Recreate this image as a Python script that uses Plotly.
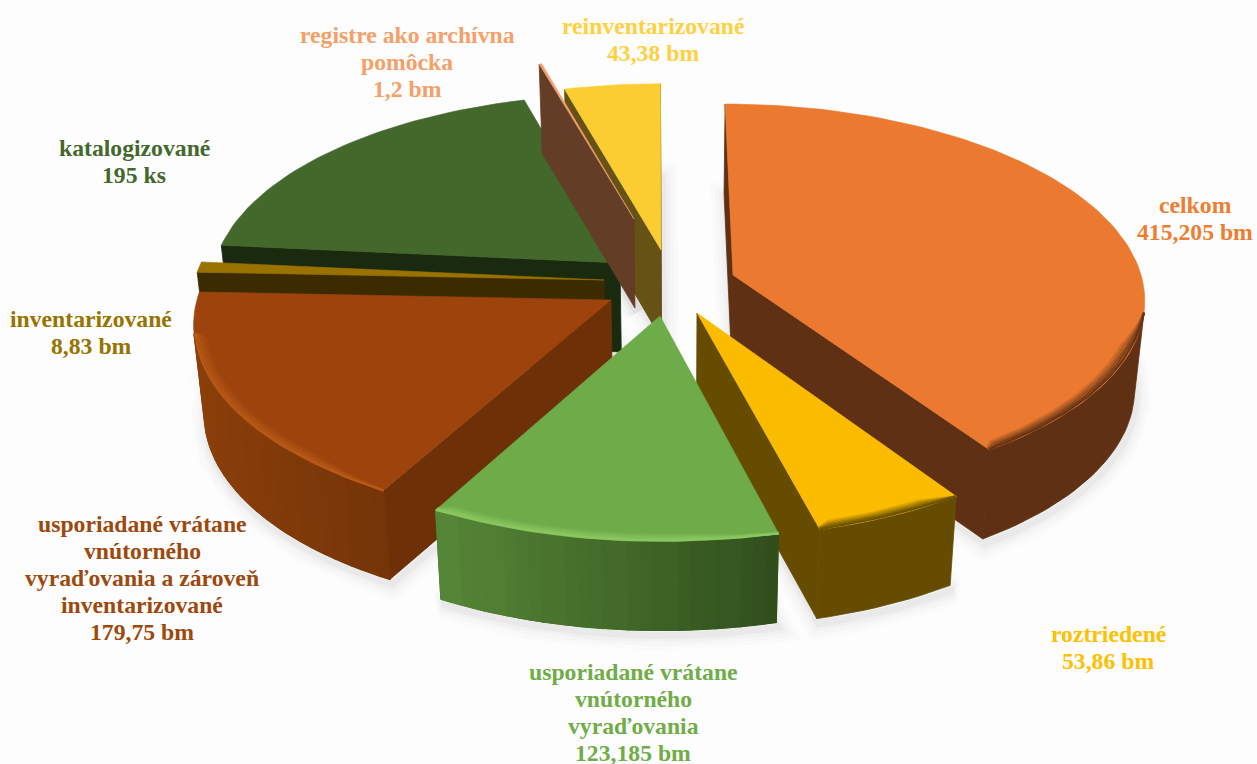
import math
import plotly.graph_objects as go

# ---- data ----
names = ["celkom", "roztriedené", "usporiadané vrátane vnútorného vyraďovania",
         "usporiadané vrátane vnútorného vyraďovania a zároveň inventarizované",
         "inventarizované", "katalogizované", "registre ako archívna pomôcka",
         "reinventarizované"]
values = [415.205, 53.86, 123.185, 179.75, 8.83, 195, 1.2, 43.38]
label_lines = [
    ["celkom", "415,205 bm"],
    ["roztriedené", "53,86 bm"],
    ["usporiadané vrátane", "vnútorného", "vyraďovania", "123,185 bm"],
    ["usporiadané vrátane", "vnútorného", "vyraďovania a zároveň", "inventarizované", "179,75 bm"],
    ["inventarizované", "8,83 bm"],
    ["katalogizované", "195 ks"],
    ["registre ako archívna", "pomôcka", "1,2 bm"],
    ["reinventarizované", "43,38 bm"],
]

# ---- style / layout ----
top_col = ["#EB7A30", "#FBBC00", "#6EAB49", "#9C440C", "#9A7200", "#43682B", "#F4A070", "#FCCD30"]
rad_col = ["#5F3013", "#664C00", "#2F4D1C", "#6E3006", "#3D2B00", "#1A2A0F", "#633D25", "#665215"]
wall_l = ["#5F3013", "#664C00", "#558536", "#8B3F0A", "#3D2B00", "#1A2A0F", "#633D25", "#665215"]
wall_r = ["#5F3013", "#664C00", "#2F4D1C", "#733408", "#3D2B00", "#1A2A0F", "#633D25", "#665215"]
bevel_col = ["#5F3013", "#664C00", "#8CC860", "#B85A18", None, None, None, None]
txt_col = ["#ED7D31", "#FFC000", "#70AD47", "#9E480E", "#997300", "#43682B", "#F4A068", "#FFD040"]
apex = [(733, 275), (697, 313), (660, 316), (611, 300), (604, 280), (620, 263), (634, 219), (661, 250)]
label_x = [1195, 1108, 633, 142, 91, 134, 407, 653]
label_y0 = [205, 634, 672, 524, 319, 148, 35, 26]
label_dy = 27
draw_order = [7, 5, 6, 4, 3, 0, 1, 2]
CX, CY, A, B, P = 655.0, 283.0, 410.0, 192.0, 0.113
H, VX, SHR = 89.0, 677.0, 0.022
BG = "#FDFDFD"


def hex2rgb(h):
    return tuple(int(h[i:i + 2], 16) for i in (1, 3, 5))


def mix(a, b, t):
    ra, rb = hex2rgb(a), hex2rgb(b)
    return "#%02X%02X%02X" % tuple(round(x + (y - x) * t) for x, y in zip(ra, rb))


def proj(gx, gy):
    d = 1 + P * gy
    return CX + A * gx / d, CY - B * gy / d


def unproj(sx, sy):
    d = sy - CY
    gy = -d / (B + P * d)
    return (sx - CX) * (1 + P * gy) / A, gy


def down(pt):
    return pt[0] + (VX - pt[0]) * SHR, pt[1] + H


total = sum(values)
fig = go.Figure()


def poly(pts, fill, line=None, width=0.8):
    xs = [p[0] for p in pts] + [pts[0][0]]
    ys = [p[1] for p in pts] + [pts[0][1]]
    fig.add_trace(go.Scatter(x=xs, y=ys, mode="lines", fill="toself", fillcolor=fill,
                             line=dict(color=line or fill, width=width),
                             hoverinfo="skip", showlegend=False))


def path(pts, color, width):
    fig.add_trace(go.Scatter(x=[p[0] for p in pts], y=[p[1] for p in pts], mode="lines",
                             line=dict(color=color, width=width), hoverinfo="skip", showlegend=False))


# slice geometry derived from the values
slices = []
ang = 0.0
for i, v in enumerate(values):
    span = v / total * 360
    gx0, gy0 = unproj(*apex[i])
    n = max(2, int(span / 1.5))

    def point(r, k, a0=ang, sp=span, n=n, gx0=gx0, gy0=gy0):
        t = math.radians(a0 + sp * k / n)
        return proj(gx0 + r * math.sin(t), gy0 + r * math.cos(t))

    slices.append(dict(apex=apex[i], arc=[point(1.0, k) for k in range(n + 1)], point=point))
    ang += span

# soft shadows from the bottom faces
for w, alpha in [(30, 0.012), (22, 0.016), (14, 0.02), (7, 0.03)]:
    for s in slices:
        bottom = [down(p) for p in [s["apex"]] + s["arc"]]
        bottom = [(x + 2, y + 5) for x, y in bottom]
        xs = [p[0] for p in bottom] + [bottom[0][0]]
        ys = [p[1] for p in bottom] + [bottom[0][1]]
        fig.add_trace(go.Scatter(x=xs, y=ys, mode="lines",
                                 line=dict(color="rgba(0,0,0,%g)" % alpha, width=w),
                                 hoverinfo="skip", showlegend=False))


def faces_viewer(p, q):
    # wall along p->q in clockwise pie order: visible when its screen quad winds outward
    b = down(q)
    return (q[0] - p[0]) * (b[1] - p[1]) - (q[1] - p[1]) * (b[0] - p[0]) < 0


for i in draw_order:
    s = slices[i]
    ap, arc = s["apex"], s["arc"]
    # radial walls
    if faces_viewer(ap, arc[0]):
        poly([ap, arc[0], down(arc[0]), down(ap)], rad_col[i])
    if faces_viewer(arc[-1], ap):
        poly([arc[-1], ap, down(ap), down(arc[-1])], rad_col[i])
    # outer wall: one solid shape, plus strips on top where it carries a gradient
    m = len(arc) - 1
    x_lo, x_hi = min(a[0] for a in arc), max(a[0] for a in arc)
    front = [k for k in range(m) if faces_viewer(arc[k], arc[k + 1])]
    if front:
        k0, k1 = front[0], front[-1] + 1
        run = arc[k0:k1 + 1]
        poly(run + [down(p) for p in reversed(run)], mix(wall_l[i], wall_r[i], 0.5))
        if wall_l[i] != wall_r[i]:
            bands = 22
            for b in range(bands):
                a0 = k0 + (k1 - k0) * b // bands
                a1 = k0 + (k1 - k0) * (b + 1) // bands
                if a1 <= a0:
                    continue
                part = arc[a0:a1 + 1]
                t = (min(part[0][0], part[-1][0]) - x_lo) / max(1, x_hi - x_lo)
                poly(part + [down(p) for p in reversed(part)], mix(wall_l[i], wall_r[i], t), width=1.2)
    # top face
    poly([ap] + arc, top_col[i], width=0.6)
    # bevel along the rim that faces the viewer, tapering to nothing at its start
    if bevel_col[i] and front:
        taper = max(1, (k1 - k0) // 4)
        for r, t in [(0.972, 0.2), (0.978, 0.4), (0.984, 0.6), (0.99, 0.8), (0.996, 0.95)]:
            pts = []
            for k in range(k0, k1 + 1):
                f = min(1.0, (k - k0) / taper, (k1 - k + 0.5) / 1.5)
                pts.append(s["point"](1 - (1 - r) * f, k))
            path(pts, mix(top_col[i], bevel_col[i], t), 2.2)

# labels
ann = []
for i, lines in enumerate(label_lines):
    for j, t in enumerate(lines):
        ann.append(dict(x=label_x[i], y=label_y0[i] + j * label_dy, text=t, showarrow=False,
                        xref="x", yref="y", xanchor="center", yanchor="middle",
                        font=dict(family="Liberation Serif", size=23.7, color=txt_col[i], weight="bold")))

fig.update_layout(
    width=1257, height=764, margin=dict(l=0, r=0, t=0, b=0),
    paper_bgcolor=BG, plot_bgcolor=BG, showlegend=False, annotations=ann,
    xaxis=dict(range=[0, 1257], visible=False, fixedrange=True),
    yaxis=dict(range=[764, 0], visible=False, fixedrange=True),
)
fig.write_html("out.html", config=dict(displayModeBar=False),
               post_script="document.body.style.margin='0';document.documentElement.style.overflow='hidden';")
